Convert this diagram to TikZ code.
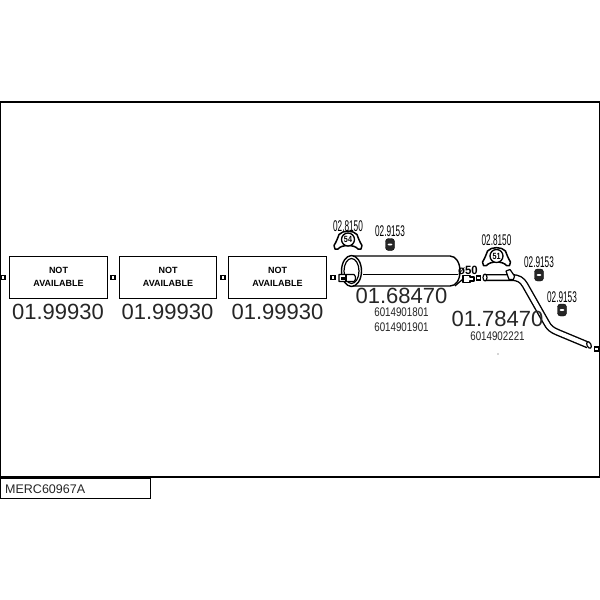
\documentclass[tikz,border=0pt]{standalone}
\usepackage{fontspec}
\usepackage{graphicx}
\setmainfont{Liberation Sans}
\tikzset{
  framebox/.style={draw=black,line width=1.1pt},
  nabox/.style={draw=black,line width=1pt,fill=white,minimum width=97.5pt,minimum height=42pt,inner sep=0pt,align=center,font=\fontsize{9}{12.5}\selectfont\bfseries},
  sq/.style={draw=black,line width=1.1pt,fill=white,minimum size=4pt,inner sep=0pt},
  bignum/.style={inner sep=0pt,font=\fontsize{22}{22}\selectfont,text=black!85},
  refnum/.style={inner sep=0pt,font=\fontsize{12.5}{12.5}\selectfont,text=black!85},
  partnum/.style={inner sep=0pt,font=\fontsize{15.5}{15.5}\selectfont,text=black},
  part/.style={draw=black,line width=1.2pt,line join=round},
  rubber/.style={draw=black,fill=black!85,rounded corners=3pt,minimum width=9pt,minimum height=12pt,inner sep=0pt}
}
\newcommand{\cond}[2]{\scalebox{#1}[1]{#2}}
\begin{document}
\begin{tikzpicture}[x=1pt,y=-1pt]
\useasboundingbox (0,0) rectangle (600,600);
\fill[white] (0,0) rectangle (600,600);
\draw[framebox] (.5,102) rectangle (599.5,477);
\node[framebox,draw,fill=white,anchor=north west,minimum width=150pt,minimum height=20pt,inner sep=0pt] (title) at (0,478) {};
\node[anchor=west,inner sep=0pt,font=\fontsize{12.5}{12.5}\selectfont,text=black!85] (titletext) at (5,489.5) {MERC60967A};

\node[nabox] (b1) at (58.5,277) {NOT\\AVAILABLE};
\node[nabox] (b2) at (168,277) {NOT\\AVAILABLE};
\node[nabox] (b3) at (277.5,277) {NOT\\AVAILABLE};
\node[sq] (s0) at (3,277.5) {};
\node[sq] (s1) at (113,277.5) {};
\node[sq] (s2) at (223,277.5) {};
\node[sq] (s3) at (333,277.5) {};
\node[sq] (s4) at (478.5,278) {};
\node[sq] (s5) at (596.5,349) {};
\node[bignum] (n1) at (58,312) {01.99930};
\node[bignum] (n2) at (167.5,312) {01.99930};
\node[bignum] (n3) at (277.5,312) {01.99930};

% muffler
\draw[part,line width=1.4pt,fill=white] (352,256) -- (450,256) .. controls (456,256) and (460,263) .. (460,271) .. controls (460,280) and (456,286) .. (450,286) -- (352,286);
\draw[part,line width=1.4pt,fill=white] (351.5,271) ellipse (10 and 15.5);
\draw[part] (351.5,271) ellipse (7.5 and 12.5);
\draw[part] (363,274.5) -- (458,274.5);
\draw[part,fill=white] (339,274.5) -- (354,274.5) .. controls (356,276) and (356,280) .. (354,281.5) -- (339,281.5) -- cycle;
\draw[part] (346,274.5) -- (346,281.5);
\fill[black] (341,276.5) rectangle (346,279.5);
\draw[part,fill=white] (463,275.5) -- (470,275.5) -- (470,277) -- (474,277) -- (474,281) -- (470,281) -- (470,282.5) -- (463,282.5) -- cycle;
\draw[part] (455,286) -- (463,279);
\node[inner sep=0pt,font=\fontsize{12}{12}\selectfont\bfseries] (dia) at (468,270) {\cond{.95}{ø50}};

\node[bignum] (n4) at (401.5,295.5) {01.68470};
\node[refnum] (r1) at (401.5,312.5) {\cond{.78}{6014901801}};
\node[refnum] (r2) at (401.5,327.5) {\cond{.78}{6014901901}};

% tailpipe
\draw[black,line width=7pt,line join=round] (485,277.5) -- (511,277.5) .. controls (519,277.5) and (522,280) .. (525,285) -- (546,322) .. controls (549,328) and (552,330) .. (558,332.5) -- (588,345);
\draw[white,line width=4.2pt,line join=round] (485,277.5) -- (511,277.5) .. controls (519,277.5) and (522,280) .. (525,285) -- (546,322) .. controls (549,328) and (552,330) .. (558,332.5) -- (588,345);
\draw[part,fill=white] (485,277.5) ellipse (2 and 3.5);
\draw[part,fill=white,rotate around={25:(589,345)}] (589,345) ellipse (2 and 3.5);
\draw[part,fill=white] (506,271) -- (510,269.5) -- (514.5,276) -- (513.5,279.5) -- (509,279.5) -- cycle;

\node[bignum] (n5) at (497.5,319) {01.78470};
\node[refnum] (r3) at (497.5,336) {\cond{.78}{6014902221}};
\fill[black!70] (498,354) circle (.6);

% clamps
\foreach \cx/\cy/\lab/\nm in {348/240.5/54/ca,496.5/257/51/cb}{
  \draw[part,line width=1.5pt,fill=white,shift={(\cx,\cy)}] (-13,8.5) -- (-14,5) .. controls (-12,2) and (-10,-3) .. (-9,-6) .. controls (-5,-10.5) and (5,-10.5) .. (9,-6) .. controls (10,-3) and (12,2) .. (14,5) -- (13,8.5) -- (10,8.5) .. controls (8,6) and (4,5) .. (0,5) .. controls (-4,5) and (-8,6) .. (-10,8.5) -- cycle;
  \node[draw=black,line width=1.3pt,circle,minimum size=13pt,inner sep=0pt,fill=white,font=\fontsize{9}{9}\selectfont\bfseries] (\nm) at (\cx,\cy-1) {\cond{.8}{\lab}};
}
\node[partnum] (l1) at (348,226) {\cond{.53}{02.8150}};
\node[partnum] (l2) at (496.5,240.5) {\cond{.53}{02.8150}};
\node[partnum] (l3) at (390,231.5) {\cond{.53}{02.9153}};
\node[partnum] (l4) at (539,262) {\cond{.53}{02.9153}};
\node[partnum] (l5) at (562,297) {\cond{.53}{02.9153}};
\node[rubber] (h1) at (390,244.5) {};
\node[rubber] (h2) at (539,275) {};
\node[rubber] (h3) at (562,310) {};
\foreach \h in {h1,h2,h3}{\fill[white] (\h.center) ellipse (2.4 and 1);}
\end{tikzpicture}
\end{document}
